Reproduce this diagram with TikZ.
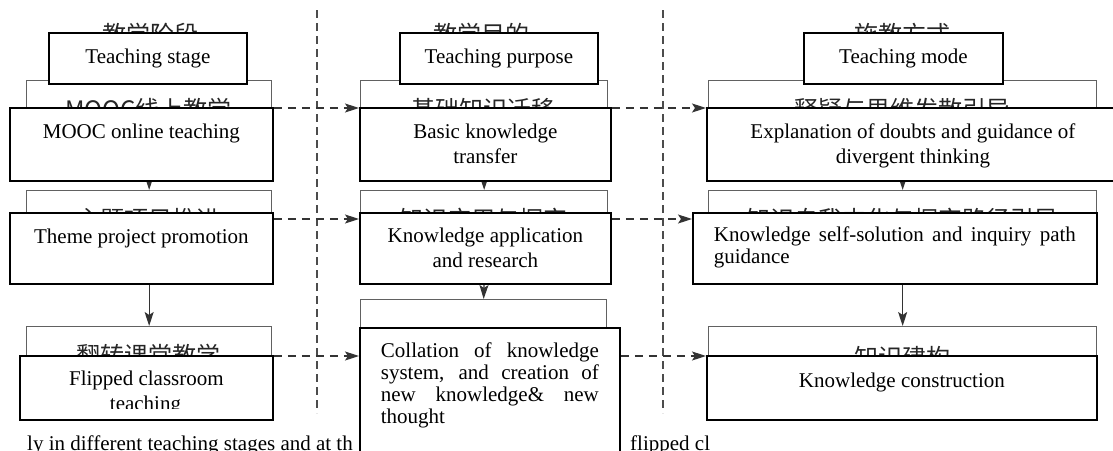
\documentclass[tikz,border=0pt]{standalone}
\usepackage{fontspec}
\setmainfont{Liberation Serif}
\newfontfamily\cjk{Noto Sans CJK SC}
\usetikzlibrary{arrows.meta}
\newcommand\gbx[5]{\node[gbox, minimum width=#4pt, minimum height=#5pt] (#1) at (#2,#3) {};}
\newcommand\ebx[7]{\node[ebox, minimum width=#4pt, minimum height=#5pt] (#1) at (#2,#3) {\parbox[c][#5pt][t]{#4pt}{\centering\rule{0pt}{#6pt}#7\par}};}
\newcommand\ebj[8]{\node[ebox, minimum width=#4pt, minimum height=#5pt] (#1) at (#2,#3) {\parbox[c][#5pt][t]{#4pt}{\fontsize{21}{#7}\selectfont\hyphenpenalty=10000\tolerance=10000\leftskip=21pt\rightskip=21pt\noindent\rule{0pt}{#6pt}#8\par}};}
\begin{document}
\begin{tikzpicture}[x=1pt,y=-1pt,
  gbox/.style={draw=black!62, line width=1.3pt, fill=white, inner sep=0pt, anchor=north west},
  ebox/.style={draw=black, line width=1.8pt, fill=white, inner sep=0pt, anchor=north west, font=\fontsize{21}{25}\selectfont},
  cjkt/.style={inner sep=0pt, text=black!85, font=\cjk\fontsize{24}{24}\selectfont},
  arr/.style={draw=black!80, line width=1.3pt, -{Stealth[length=14pt,width=9pt,inset=3pt]}},
  darr/.style={arr, dash pattern=on 8pt off 6pt},
  vdash/.style={draw=black!70, line width=1.3pt, dash pattern=on 8pt off 5pt},
  btext/.style={inner sep=0pt, anchor=base west, font=\fontsize{21}{25}\selectfont}]
\useasboundingbox (0,0) rectangle (1113,450);
\clip (0,0) rectangle (1113,450);
\fill[white] (0,0) rectangle (1113,450);
% gray (original) boxes
\gbx{g11}{26}{80}{245}{90}
\gbx{g12}{360}{80}{247}{90}
\gbx{g13}{708}{80}{388}{90}
\gbx{g21}{26}{190}{245}{85}
\gbx{g22}{360}{190}{247}{85}
\gbx{g23}{708}{190}{388}{85}
\gbx{g31}{26}{326}{245}{85}
\gbx{g32}{360}{299}{246}{130}
\gbx{g33}{708}{326}{388}{85}
% chinese texts
\node[cjkt] (c0a) at (150,34) {教学阶段};
\node[cjkt] (c0b) at (481,34) {教学目的};
\node[cjkt] (c0c) at (902,34) {施教方式};
\node[cjkt] (c11) at (148.5,109) {MOOC线上教学};
\node[cjkt] (c12) at (483,109) {基础知识迁移};
\node[cjkt] (c13) at (902,109) {释疑与思维发散引导};
\node[cjkt] (c21) at (148.5,219) {主题项目推进};
\node[cjkt] (c22) at (483,219) {知识应用与探究};
\node[cjkt] (c23) at (902,219) {知识自我内化与探究路径引导};
\node[cjkt] (c31) at (148.5,355) {翻转课堂教学};
\node[cjkt] (c33) at (902,357) {知识建构};
% vertical arrows
\draw[arr] (g11.south) -- (g21.north);
\draw[arr] (g21.south) -- (g31.north);
\draw[arr] (g12.south) -- (g22.north);
\draw[arr] (g22.south) -- (g32.north);
\draw[arr] (g13.south) -- (g23.north);
\draw[arr] (g23.south) -- (g33.north);
% column separators
\coordinate (s1a) at (317,10); \coordinate (s1b) at (317,413);
\coordinate (s2a) at (663,10); \coordinate (s2b) at (663,413);
\draw[vdash] (s1a) -- (s1b);
\draw[vdash] (s2a) -- (s2b);
% bottom caption remnants
\node[btext] (bt1) at (27,450.5) {ly in different teaching stages and at th};
\node[btext] (bt2) at (630,450.5) {flipped cl};
% english boxes
\ebx{h1}{48}{32}{198}{51}{31}{Teaching stage}
\ebx{h2}{399}{32}{198}{51}{31}{Teaching purpose}
\ebx{h3}{803}{32}{199}{51}{31}{Teaching mode}
\ebx{e11}{9}{107}{263}{73}{31}{MOOC online teaching}
\ebx{e12}{359}{107}{251}{73}{31}{Basic knowledge\\transfer}
\ebx{e13}{706}{107}{412}{73}{31}{Explanation of doubts and guidance of\\divergent thinking}
\ebx{e21}{9}{212}{263}{71}{31}{Theme project promotion}
\ebx{e22}{359}{212}{251}{71}{30}{Knowledge application\\and research}
\ebj{e23}{692}{212}{404}{71}{29}{22}{Knowledge self-solution and inquiry path guidance}
\ebx{e31}{19}{355}{253}{64}{30}{Flipped classroom}
\begin{scope}
\clip (19,355) rectangle (272,408);
\node[btext, anchor=base] (e31b) at (145.5,410) {teaching};
\end{scope}
\ebj{e32}{359}{327}{260}{143}{30}{22}{Collation of knowledge\linebreak system, and creation of\linebreak new knowledge\& new\linebreak thought}
\ebx{e33}{706}{355}{390}{64}{32}{Knowledge construction}
% horizontal dashed arrows
\coordinate (r1) at (0,108);
\coordinate (r2) at (0,219);
\coordinate (r3) at (0,356);
\draw[darr] (e11.east |- r1) -- (e12.west |- r1);
\draw[darr] (e12.east |- r1) -- (e13.west |- r1);
\draw[darr] (e21.east |- r2) -- (e22.west |- r2);
\draw[darr] (e22.east |- r2) -- (e23.west |- r2);
\draw[darr] (e31.east |- r3) -- (e32.west |- r3);
\draw[darr] (e32.east |- r3) -- (e33.west |- r3);
\end{tikzpicture}
\end{document}
